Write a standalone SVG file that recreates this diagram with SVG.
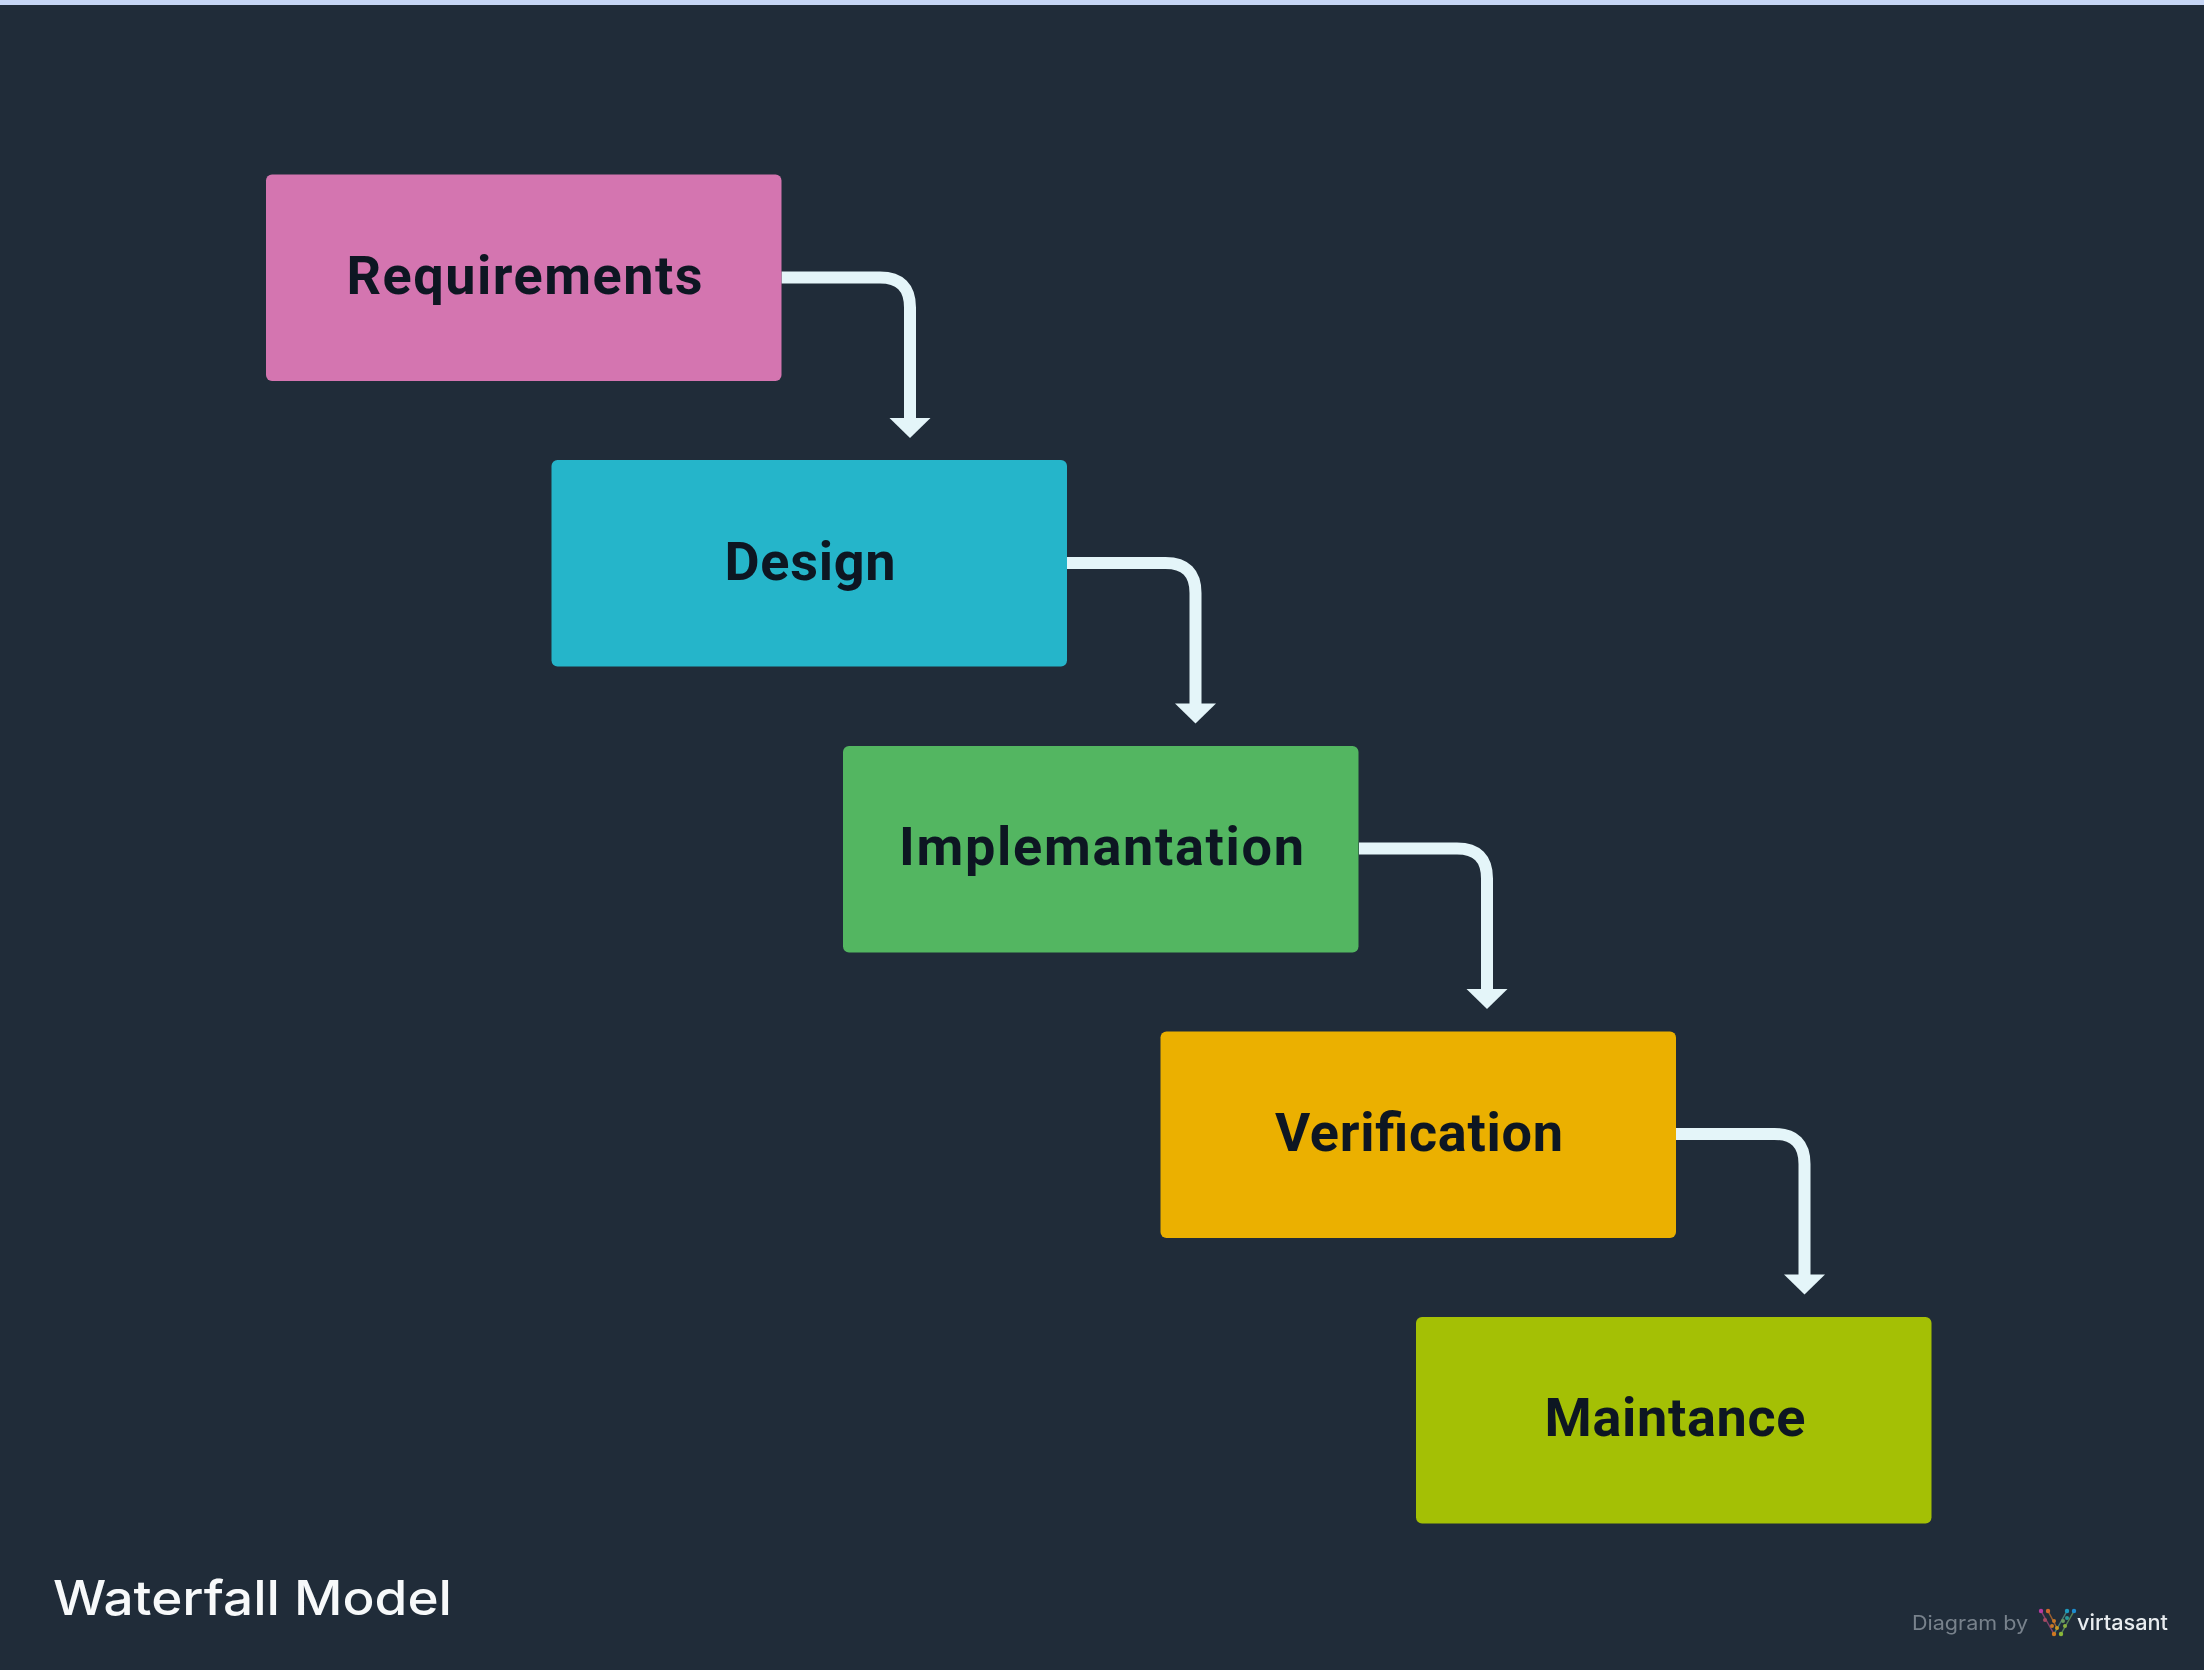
<svg xmlns="http://www.w3.org/2000/svg" width="2204" height="1670" viewBox="0 0 2204 1670">
<defs>
<style>
.box{rx:6px}
.lbl{font-family:"Roboto","Liberation Sans",sans-serif;font-weight:700;font-size:54px;fill:#0e1520;text-anchor:middle;filter:url(#soft)}
.edge{fill:none;stroke:#e4f5f9;stroke-width:12}
.head{fill:#e4f5f9}
.title{font-family:"Inter","Open Sans",sans-serif;font-weight:500;font-size:48px;fill:#f7f9fa;filter:url(#soft)}
.by{font-family:"Inter","Open Sans",sans-serif;font-size:20px;fill:#78828c}
.brand{font-family:"Inter","Open Sans",sans-serif;font-size:21px;font-weight:500;fill:#e8ecef}
</style>
<filter id="soft" x="-5%" y="-20%" width="110%" height="140%"><feGaussianBlur stdDeviation="0.7"/></filter>
<path id="ah" class="head" d="M-20.500 0H20.500L0 20Z"/>
</defs>
<rect width="2204" height="1670" fill="#202c39"/>
<rect width="2204" height="5" fill="#c6d6f5"/>
<g id="connectors">
<path class="edge" d="M781.500 277.500H880Q910 277.500 910 307.500V420"/><use href="#ah" x="910" y="418"/>
<path class="edge" d="M1067 563H1165.500Q1195.500 563 1195.500 593V705.500"/><use href="#ah" x="1195.500" y="703.500"/>
<path class="edge" d="M1359 848.500H1457Q1487 848.500 1487 878.500V991"/><use href="#ah" x="1487" y="989"/>
<path class="edge" d="M1676 1134H1774.500Q1804.500 1134 1804.500 1164V1276.500"/><use href="#ah" x="1804.500" y="1274.500"/>
</g>
<g id="requirements"><rect class="box" x="266" y="174.500" width="515.500" height="206.500" fill="#d475b0"/><text class="lbl" x="524.500" y="294" textLength="356">Requirements</text></g>
<g id="design"><rect class="box" x="551.500" y="460" width="515.500" height="206.500" fill="#25b5ca"/><text class="lbl" x="810" y="579.500" textLength="171">Design</text></g>
<g id="implementation"><rect class="box" x="843" y="746" width="515.500" height="206.500" fill="#53b661"/><text class="lbl" x="1101.500" y="865" textLength="405">Implemantation</text></g>
<g id="verification"><rect class="box" x="1160.500" y="1031.500" width="515.500" height="206.500" fill="#ebb000"/><text class="lbl" x="1419" y="1150.500" textLength="288">Verification</text></g>
<g id="maintance"><rect class="box" x="1416" y="1317" width="515.500" height="206.500" fill="#a4c005"/><text class="lbl" x="1675" y="1436" textLength="261">Maintance</text></g>
<text class="title" x="53" y="1615" textLength="399" lengthAdjust="spacingAndGlyphs">Waterfall Model</text>
<g id="credit" filter="url(#soft)">
<text class="by" x="1912" y="1630" textLength="116" lengthAdjust="spacingAndGlyphs">Diagram by</text>
<g fill="none" stroke-width="1.500" opacity=".75">
<path d="M2041 1611L2054 1634" stroke="#a84a7a"/><path d="M2048 1611L2057 1628" stroke="#c8702a"/><path d="M2067 1611L2054 1634" stroke="#5a9a8a"/><path d="M2074 1611L2061 1634" stroke="#6aa060"/>
</g>
<g>
<circle cx="2041" cy="1611" r="2.200" fill="#b83aa0"/><circle cx="2048" cy="1611" r="2.200" fill="#d0682a"/><circle cx="2067" cy="1611" r="2.200" fill="#1c9cc0"/><circle cx="2074" cy="1611" r="2.200" fill="#1c8cd0"/>
<circle cx="2045" cy="1620" r="2" fill="#a84a60"/><circle cx="2054" cy="1621" r="2" fill="#c87828"/><circle cx="2067" cy="1618" r="2" fill="#2a9a9a"/><circle cx="2063" cy="1621" r="2" fill="#6a9a60"/>
<circle cx="2052" cy="1626" r="2" fill="#c87828"/><circle cx="2057" cy="1628" r="2" fill="#c89a20"/><circle cx="2065" cy="1626" r="2" fill="#8ab040"/><circle cx="2054" cy="1634" r="2.200" fill="#d07820"/><circle cx="2061" cy="1634" r="2.200" fill="#8ab838"/>
</g>
<text class="brand" x="2077" y="1630" textLength="91" lengthAdjust="spacingAndGlyphs">virtasant</text>
</g>
</svg>
